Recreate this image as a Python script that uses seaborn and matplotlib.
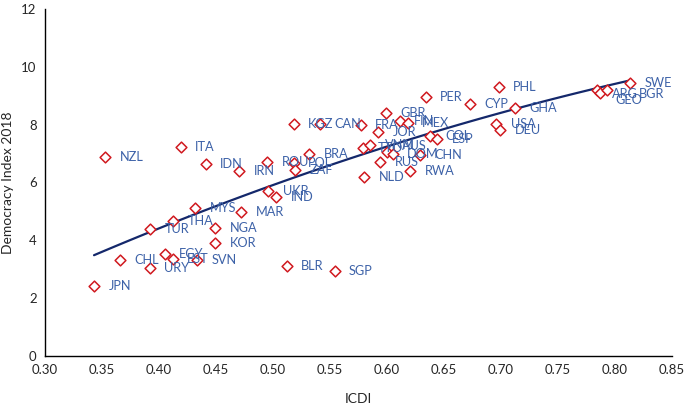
import matplotlib
matplotlib.use("Agg")
import matplotlib.pyplot as plt
import seaborn as sns
import pandas as pd

countries = ["NZL", "ITA", "IDN", "IRN", "ROU", "UKR", "IND", "MYS", "MAR", "THA",
             "TUR", "NGA", "KOR", "CHL", "EGY", "EST", "SVN", "URY", "JPN", "BLR",
             "SGP", "KGZ", "CAN", "FRA", "JOR", "GBR", "FIN", "MEX", "PER", "CYP",
             "COL", "ESP", "BRA", "POL", "ZAF", "TTO", "VNM", "AUS", "DOM", "CHN",
             "RUS", "RWA", "NLD", "PHL", "GHA", "USA", "DEU", "ARG", "GEO", "BGR",
             "SWE"]
icdi = [0.353, 0.419, 0.441, 0.470, 0.495, 0.496, 0.503, 0.432, 0.472, 0.412,
        0.392, 0.449, 0.449, 0.366, 0.405, 0.412, 0.433, 0.392, 0.343, 0.512,
        0.554, 0.518, 0.541, 0.577, 0.592, 0.599, 0.611, 0.618, 0.634, 0.673,
        0.638, 0.644, 0.532, 0.518, 0.519, 0.579, 0.585, 0.600, 0.605, 0.629,
        0.594, 0.620, 0.580, 0.698, 0.712, 0.696, 0.699, 0.784, 0.787, 0.793,
        0.813]
democracy = [6.89, 7.24, 6.64, 6.40, 6.72, 5.72, 5.50, 5.12, 4.98, 4.66,
             4.38, 4.44, 3.92, 3.31, 3.51, 3.36, 3.32, 3.06, 2.43, 3.12,
             2.94, 8.03, 8.02, 7.99, 7.74, 8.41, 8.11, 8.04, 8.94, 8.71,
             7.61, 7.51, 6.99, 6.69, 6.43, 7.18, 7.28, 7.06, 7.00, 6.94,
             6.70, 6.41, 6.20, 9.30, 8.57, 8.02, 7.80, 9.20, 9.09, 9.19,
             9.45]

x_ticks = [0.30, 0.35, 0.40, 0.45, 0.50, 0.55, 0.60, 0.65, 0.70, 0.75, 0.80, 0.85]
y_ticks = [0, 2, 4, 6, 8, 10, 12]

# label placement tweaks (offset points) for crowded labels
label_nudge = {"GEO": (11, -5), "BGR": (23, -3), "ARG": (11, -3), "AUS": (11, 4)}

df = pd.DataFrame({"country": countries, "ICDI": icdi, "Democracy Index 2018": democracy})

sns.set_theme(style="white")
plt.rcParams["font.family"] = ["Lato", "DejaVu Sans"]

fig = plt.figure(figsize=(6.85, 4.07), dpi=100)
ax = fig.add_axes([0.0657, 0.1253, 0.9153, 0.8527])

sns.regplot(data=df, x="ICDI", y="Democracy Index 2018", order=2, ci=None,
            scatter=False, ax=ax, truncate=True,
            line_kws=dict(color="#14286B", lw=1.6, zorder=2))
sns.scatterplot(data=df, x="ICDI", y="Democracy Index 2018", ax=ax,
                marker="D", s=30, facecolor="white", edgecolor="#D0191F",
                linewidth=1.1, zorder=3)

label_color = "#3D62A8"
for c, xv, yv in zip(countries, icdi, democracy):
    off = label_nudge.get(c, (10.5, 0))
    ax.annotate(c, (xv, yv), xytext=off, textcoords="offset points",
                ha="left", va="center", fontsize=9.2, color=label_color, zorder=4)

ax.set_xlim(0.30, 0.85)
ax.set_ylim(0, 12)
ax.set_xticks(x_ticks)
ax.set_xticklabels([f"{t:.2f}" for t in x_ticks])
ax.set_yticks(y_ticks)
ax.tick_params(axis="both", length=0, labelsize=9.5, labelcolor="#262626", pad=6)
ax.set_xlabel("ICDI", fontsize=10, color="#262626", labelpad=12)
ax.set_ylabel("Democracy Index 2018", fontsize=10, color="#262626", labelpad=5)
for s in ["top", "right"]:
    ax.spines[s].set_visible(False)
for s in ["left", "bottom"]:
    ax.spines[s].set_color("#000000")
    ax.spines[s].set_linewidth(1.0)
ax.grid(False)

fig.savefig("out.png", dpi=100)
